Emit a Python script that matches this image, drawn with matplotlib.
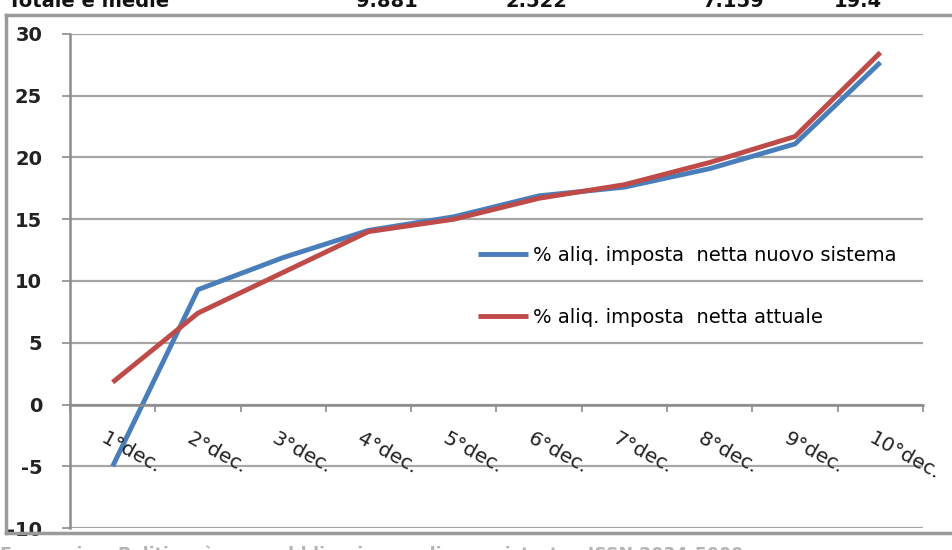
import matplotlib.pyplot as plt
from matplotlib.lines import Line2D

plt.rcParams["axes.unicode_minus"] = False

# decili di reddito e aliquote nette (%)
deciles = ["1°dec.", "2°dec.", "3°dec.", "4°dec.", "5°dec.",
           "6°dec.", "7°dec.", "8°dec.", "9°dec.", "10°dec."]
nuovo_sistema = [-5.0, 9.3, 11.9, 14.1, 15.2, 16.9, 17.6, 19.1, 21.1, 27.7]
attuale = [1.8, 7.4, 10.7, 14.0, 15.0, 16.7, 17.8, 19.6, 21.7, 28.5]

# riga della tabella sopra il grafico (tagliata)
header_labels = ["Totale e medie", "9.881", "2.522", "7.159", "19.4"]
header_x = [8, 356, 506, 703, 834]

fig = plt.figure(figsize=(9.53, 5.5), dpi=100)
W, H = 953, 550
ax = fig.add_axes([70 / W, 1 - 528 / H, 853 / W, 494 / H])

x = list(range(1, len(deciles) + 1))
blue, red = "#4a7ebb", "#be4b48"
ax.plot(x, nuovo_sistema, color=blue, lw=3.5, solid_capstyle="butt",
        label="% aliq. imposta  netta nuovo sistema")
ax.plot(x, attuale, color=red, lw=3.5, solid_capstyle="butt",
        label="% aliq. imposta  netta attuale")

ax.set_xlim(0.5, len(deciles) + 0.5)
ax.set_ylim(-10, 30)
ax.set_yticks(range(-10, 31, 5))
ax.yaxis.grid(True, color="#a6a6a6", lw=1.6)
ax.set_axisbelow(True)

for s in ["top", "right"]:
    ax.spines[s].set_visible(False)
ax.spines["bottom"].set_position(("data", 0))
ax.spines["bottom"].set_color("#8c8c8c")
ax.spines["left"].set_color("#8c8c8c")
ax.spines["bottom"].set_linewidth(1.8)
ax.spines["left"].set_linewidth(1.8)

ax.set_xticks([i + 0.5 for i in range(len(deciles) + 1)])
ax.set_xticklabels([])
ax.tick_params(axis="x", length=5, width=1.2, color="#8c8c8c")
ax.tick_params(axis="y", length=6, width=1.2, color="#8c8c8c", pad=14,
               labelsize=14, labelcolor="#222222")
for lbl in ax.get_yticklabels():
    lbl.set_fontweight("bold")

# etichette dei decili ruotate sotto l'asse dello zero
for xi, name in zip(x, deciles):
    ax.annotate(name, xy=(xi, 0), xycoords="data",
                xytext=(-10, -33), textcoords="offset pixels",
                rotation=-29, rotation_mode="anchor",
                ha="left", va="center", fontsize=14.5, color="#222222")

ax.legend(loc="upper left", bbox_to_anchor=(400 / 853, 1 - 204 / 494),
          frameon=False, fontsize=14, handlelength=2.6, handletextpad=0.25,
          labelspacing=2.2, borderaxespad=0)

# cornice del grafico
frame_kw = dict(color="#9a9a9a", lw=2.5, transform=fig.transFigure)
fig.add_artist(Line2D([6 / W, 1.01], [1 - 15 / H, 1 - 15 / H], **frame_kw))
fig.add_artist(Line2D([6 / W, 6 / W], [1 - 15 / H, 1 - 533 / H], **frame_kw))
fig.add_artist(Line2D([6 / W, 1.01], [1 - 533 / H, 1 - 533 / H], **frame_kw))

for lab, px in zip(header_labels, header_x):
    fig.text(px / W, 1 - 7 / H, lab, fontsize=14, fontweight="bold",
             color="#111111", va="baseline", ha="left")

fig.text(0 / W, 1 - 545 / H,
         "Economia e Politica  è una pubblicazione online registrata   ISSN 2034-5000",
         fontsize=12.5, fontweight="bold", color="#b4b4b4", va="top", ha="left")

fig.savefig("out.png", dpi=100)
